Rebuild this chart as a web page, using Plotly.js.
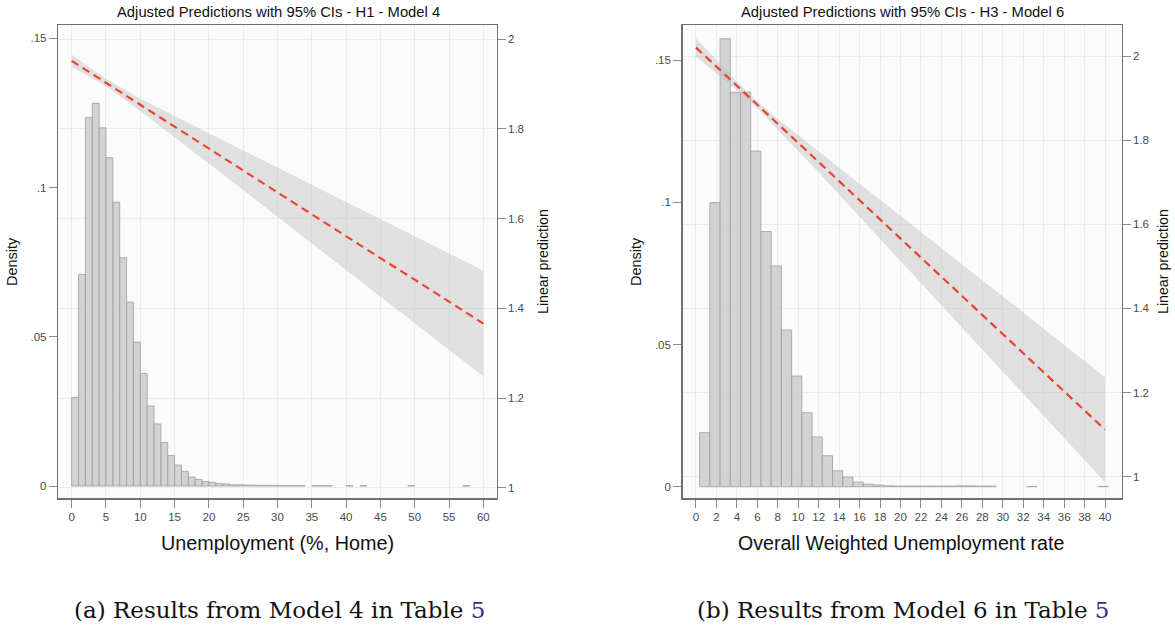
<!DOCTYPE html>
<html>
<head>
<meta charset="utf-8">
<script src="https://cdn.plot.ly/plotly-3.0.1.min.js"></script>
<style>
  html, body { margin: 0; padding: 0; background: #ffffff; }
  #chart { width: 1175px; height: 628px; }
</style>
</head>
<body>
<div id="chart"></div>
<script>
// ---------------- DATA ----------------
// Panel (a): histogram of Unemployment (%, Home), bins of width 1 starting at 0
const binStartA = 0;
const binWidthA = 1;
const densityA = [
  0.0297, 0.0709, 0.1235, 0.1282, 0.1200, 0.1100, 0.0951, 0.0765, 0.0616, 0.0482,
  0.0377, 0.0268, 0.0208, 0.0146, 0.0102, 0.0070, 0.0049, 0.0030, 0.0022, 0.0015,
  0.0012, 0.0008, 0.0007, 0.0004, 0.0004, 0.0003, 0.0003, 0.0002, 0.0002, 0.0002,
  0.0001, 0.0001, 0.0001, 0.0001, null,   0.0001, 0.0001, 0.0001, null,   null,
  0.0001, null,   0.0001, null,   null,   null,   null,   null,   null,   0.0001,
  null,   null,   null,   null,   null,   null,   null,   0.0001, null,   null
];
// Panel (a): adjusted predictions with 95% CI
const predXA  = [0, 2.5, 5, 10, 15, 20, 25, 30, 35, 40, 45, 50, 55, 60];
const predA   = [1.952, 1.928, 1.903, 1.854, 1.805, 1.757, 1.708, 1.659, 1.610, 1.561, 1.512, 1.464, 1.415, 1.366];
const lowerA  = [1.939, 1.919, 1.896, 1.841, 1.782, 1.724, 1.665, 1.605, 1.546, 1.486, 1.427, 1.368, 1.308, 1.249];
const upperA  = [1.965, 1.937, 1.911, 1.867, 1.828, 1.790, 1.751, 1.713, 1.674, 1.636, 1.598, 1.560, 1.522, 1.483];
const xTicksA = [0, 5, 10, 15, 20, 25, 30, 35, 40, 45, 50, 55, 60];

// Panel (b): histogram of Overall Weighted Unemployment rate, bins of width 1 starting at 0.35
const binStartB = 0.35;
const binWidthB = 1;
const densityB = [
  0.0190, 0.0999, 0.1575, 0.1387, 0.1387, 0.1180, 0.0897, 0.0776, 0.0551, 0.0389,
  0.0260, 0.0175, 0.0109, 0.0056, 0.0034, 0.0016, 0.0009, 0.0006, 0.0003, 0.0002,
  0.0002, 0.0002, 0.0002, 0.0002, 0.0002, 0.0003, 0.0003, 0.0002, 0.0002, null,
  null,   null,   0.0001, null,   null,   null,   null,   null,   null,   0.0001
];
// Panel (b): adjusted predictions with 95% CI
const predXB  = [0, 2, 4, 6, 8, 10, 12, 16, 20, 24, 28, 32, 36, 40];
const predB   = [2.020, 1.975, 1.929, 1.884, 1.838, 1.793, 1.748, 1.657, 1.566, 1.475, 1.384, 1.294, 1.203, 1.112];
const lowerB  = [1.999, 1.960, 1.920, 1.877, 1.827, 1.775, 1.724, 1.619, 1.513, 1.408, 1.303, 1.198, 1.093, 0.988];
const upperB  = [2.041, 1.989, 1.938, 1.891, 1.849, 1.811, 1.772, 1.695, 1.619, 1.542, 1.465, 1.390, 1.313, 1.236];
const xTicksB = [0, 2, 4, 6, 8, 10, 12, 14, 16, 18, 20, 22, 24, 26, 28, 30, 32, 34, 36, 38, 40];

const densTickVals = [0, 0.05, 0.1, 0.15];
const densTickText = ['0', '.05', '.1', '.15'];
const predTickVals = [1, 1.2, 1.4, 1.6, 1.8, 2];
const predTickText = ['1', '1.2', '1.4', '1.6', '1.8', '2'];

const titleA = 'Adjusted Predictions with 95% CIs - H1 - Model 4';
const titleB = 'Adjusted Predictions with 95% CIs - H3 - Model 6';
const xTitleA = 'Unemployment (%, Home)';
const xTitleB = 'Overall Weighted Unemployment rate';
const captionA = '(a) Results from Model 4 in Table <span style="color:#35338c">5</span>';
const captionB = '(b) Results from Model 6 in Table <span style="color:#35338c">5</span>';

// ---------------- STYLE ----------------
const W = 1175, H = 628;
const SANS = '"Liberation Sans Narrow", "Arial Narrow", "Liberation Sans", Arial, sans-serif';
const SERIF = '"DejaVu Serif", "Liberation Serif", serif';
const barFill = 'rgba(196,196,196,0.72)';
const barLine = 'rgba(165,165,165,0.9)';
const bandFill = 'rgba(185,185,185,0.42)';
const lineColor = '#e8452c';

function centers(start, width, n) {
  const out = [];
  for (let i = 0; i < n; i++) out.push(start + width * (i + 0.5));
  return out;
}

function panelTraces(xa, yd, yp, start, width, dens, px, pred, lo, hi) {
  return [
    { type: 'bar', x: centers(start, width, dens.length), y: dens, width: width,
      xaxis: xa, yaxis: yd, marker: { color: barFill, line: { color: barLine, width: 1 } },
      hoverinfo: 'skip', showlegend: false },
    { type: 'scatter', mode: 'lines', x: px, y: lo, xaxis: xa, yaxis: yp,
      line: { color: 'rgba(200,200,200,0.5)', width: 0.6 }, hoverinfo: 'skip', showlegend: false },
    { type: 'scatter', mode: 'lines', x: px, y: hi, xaxis: xa, yaxis: yp, fill: 'tonexty',
      fillcolor: bandFill, line: { color: 'rgba(200,200,200,0.5)', width: 0.6 },
      hoverinfo: 'skip', showlegend: false },
    { type: 'scatter', mode: 'lines', x: px, y: pred, xaxis: xa, yaxis: yp,
      line: { color: lineColor, width: 2.2, dash: '8px,5px' }, hoverinfo: 'skip', showlegend: false }
  ];
}

const data = [].concat(
  panelTraces('x', 'y', 'y2', binStartA, binWidthA, densityA, predXA, predA, lowerA, upperA),
  panelTraces('x2', 'y3', 'y4', binStartB, binWidthB, densityB, predXB, predB, lowerB, upperB)
);

const tickFont = { family: SANS, size: 11.5, color: '#4a4a4a' };
function xAxis(domain, range, ticks, anchor) {
  return { domain: domain, range: range, anchor: anchor, tickmode: 'array', tickvals: ticks,
    ticks: 'outside', ticklen: 8, tickwidth: 1, tickcolor: '#8a8a8a', tickfont: tickFont,
    showline: true, linecolor: '#707070', linewidth: 1.5, mirror: true,
    showgrid: true, gridcolor: '#ececec', gridwidth: 1, zeroline: false, fixedrange: true };
}
function densAxis(range, anchor) {
  return { domain: [1 - 498 / H, 1 - 25 / H], range: range, anchor: anchor,
    tickmode: 'array', tickvals: densTickVals, ticktext: densTickText,
    ticks: 'outside', ticklen: 8, tickwidth: 1, tickcolor: '#8a8a8a', tickfont: tickFont,
    showline: true, linecolor: '#707070', linewidth: 1.5, mirror: true,
    showgrid: false, zeroline: false, fixedrange: true };
}
function predAxis(range, anchor, over) {
  return { range: range, anchor: anchor, overlaying: over, side: 'right',
    tickmode: 'array', tickvals: predTickVals, ticktext: predTickText,
    ticks: 'outside', ticklen: 8, tickwidth: 1, tickcolor: '#8a8a8a', tickfont: tickFont,
    showline: false, showgrid: true, gridcolor: '#ececec', gridwidth: 1,
    zeroline: false, fixedrange: true };
}

function ann(text, x, y, size, opts) {
  return Object.assign({ text: text, x: x / W, y: 1 - y / H, xref: 'paper', yref: 'paper',
    xanchor: 'center', yanchor: 'middle', showarrow: false,
    font: { family: SANS, size: size, color: '#111111' } }, opts || {});
}

const layout = {
  width: W, height: H,
  margin: { l: 0, r: 0, t: 0, b: 0, pad: 0 },
  paper_bgcolor: '#ffffff',
  plot_bgcolor: '#fbfbfb',
  showlegend: false,
  barmode: 'overlay',
  xaxis: xAxis([58.3 / W, 496.7 / W], [-1.95, 61.95], xTicksA, 'y'),
  yaxis: densAxis([-0.00402, 0.15446], 'x'),
  yaxis2: predAxis([0.97703, 2.0319], 'x', 'y'),
  xaxis2: xAxis([682.7 / W, 1121.7 / W], [-1.30, 41.63], xTicksB, 'y3'),
  yaxis3: densAxis([-0.00397, 0.16234], 'x2'),
  yaxis4: predAxis([0.9494, 2.0737], 'x2', 'y3'),
  annotations: [
    ann(titleA, 278, 12, 14.8),
    ann(titleB, 902, 12, 14.8),
    ann(xTitleA, 277, 543, 19.8),
    ann(xTitleB, 901, 543, 19.6),
    ann('Density', 12, 262, 14.5, { textangle: -90 }),
    ann('Linear prediction', 543, 262, 14.2, { textangle: -90 }),
    ann('Density', 636, 262, 14.5, { textangle: -90 }),
    ann('Linear prediction', 1163, 262, 14.2, { textangle: -90 }),
    ann(captionA, 279, 610, 23, { font: { family: SERIF, size: 23, color: '#111111' } }),
    ann(captionB, 903, 610, 23, { font: { family: SERIF, size: 23, color: '#111111' } })
  ]
};

Plotly.newPlot('chart', data, layout, { staticPlot: true, displayModeBar: false });
</script>
</body>
</html>
